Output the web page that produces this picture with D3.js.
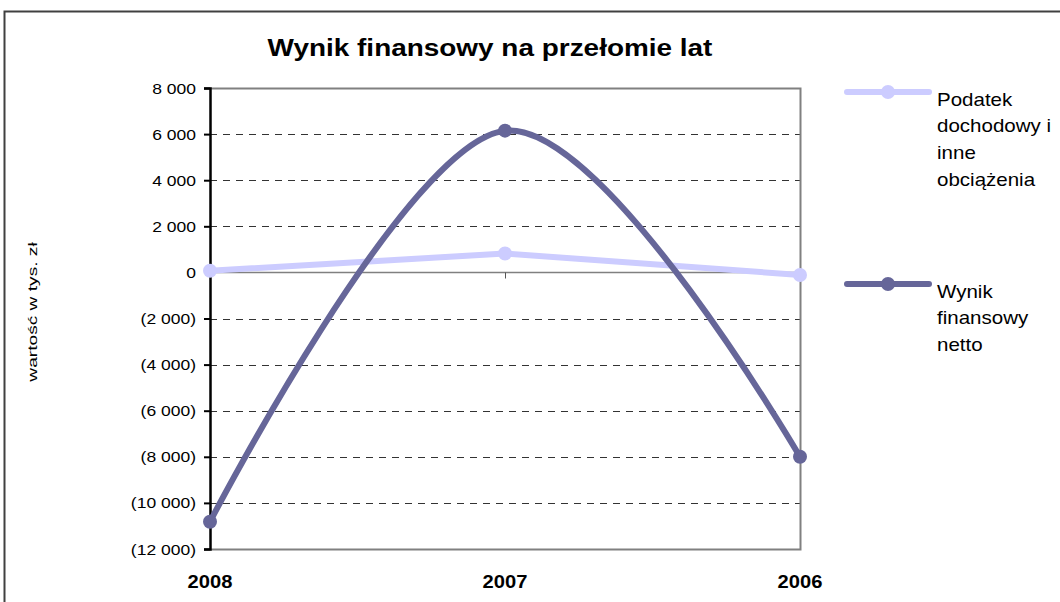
<!DOCTYPE html>
<html><head><meta charset="utf-8">
<script src="https://cdn.jsdelivr.net/npm/d3@7"></script>
<style>body{margin:0;background:#fff}svg{display:block;font-family:Arial,"Liberation Sans",sans-serif}</style>
</head><body><svg id="c" width="1060" height="602"></svg>
<script>
const years = ["2008", "2007", "2006"];
const podatek = [70, 820, -110];
const wynik = [-10820, 6150, -8000];
const yTicks = [8000, 6000, 4000, 2000, 0, -2000, -4000, -6000, -8000, -10000, -12000];
const seriesNames = [["Podatek", "dochodowy i", "inne", "obciążenia"], ["Wynik", "finansowy", "netto"]];
const colors = ["#CCCCFF", "#666699"];

const svg = d3.select("#c");
const L = 210, R = 800, T = 88, B = 549;
const SX = 1.14;
const x = d3.scalePoint().domain(years).range([L, R]);
const y = d3.scaleLinear().domain([-12000, 8000]).range([B, T]);

function label(g, tx, ty, txt, size, anchor, bold, sx) {
  return g.append("text").attr("transform", `translate(${tx},${ty}) scale(${sx || SX},1)`)
    .attr("text-anchor", anchor || "start").attr("font-size", size)
    .attr("font-weight", bold ? "bold" : "normal").attr("fill", "#000").text(txt);
}

// outer border
svg.append("path").attr("d", "M4.5,602 L4.5,11.5 L1060,11.5").attr("fill", "none").attr("stroke", "#404040").attr("stroke-width", 2);

// title
label(svg, 490, 56, "Wynik finansowy na przełomie lat", 24.5, "middle", true, 1.14);

// grid
const fmt = v => { const s = d3.format(",")(Math.abs(v)).replace(/,/g, "\u00a0"); return v < 0 ? "(" + s + ")" : s; };
svg.append("g").selectAll("line").data(yTicks.filter(v => v !== 0 && v !== 8000 && v !== -12000)).join("line")
  .attr("x1", L).attr("x2", R).attr("y1", d => Math.round(y(d)) + 0.5).attr("y2", d => Math.round(y(d)) + 0.5)
  .attr("stroke", "#333").attr("stroke-width", 1).attr("stroke-dasharray", "7,6");

// plot border (top, right, bottom)
svg.append("path").attr("d", `M${L},${T+0.5} L${R+0.5},${T+0.5} L${R+0.5},${B+0.5} L${L},${B+0.5}`)
  .attr("fill", "none").attr("stroke", "#808080").attr("stroke-width", 2);

// zero axis
const yz = Math.round(y(0)) + 0.5;
svg.append("line").attr("x1", L).attr("x2", R).attr("y1", yz).attr("y2", yz).attr("stroke", "#808080").attr("stroke-width", 1.5);
svg.append("g").selectAll("line").data(years).join("line")
  .attr("x1", d => x(d) + 0.5).attr("x2", d => x(d) + 0.5).attr("y1", yz).attr("y2", yz + 6).attr("stroke", "#555");

// y axis
const yAxis = d3.axisLeft(y).tickValues(yTicks).tickFormat("").tickSize(6);
const ga = svg.append("g").attr("transform", `translate(${L},0)`).call(yAxis);
ga.select(".domain").attr("stroke", "#000").attr("stroke-width", 2.5);
ga.selectAll(".tick line").attr("stroke", "#000").attr("stroke-width", 2);
const gl = svg.append("g");
yTicks.forEach(v => label(gl, 196, y(v) + 5.5, fmt(v), 15.5, "end", false, 1.13));

// x labels
const gx = svg.append("g");
years.forEach(d => label(gx, x(d), 588, d, 18, "middle", true, 1.12));

// y title
svg.append("text").attr("transform", "translate(37,312) rotate(-90) scale(1.42,1)").attr("text-anchor", "middle")
  .attr("font-size", 13.5).text("wartość w tys. zł");

// lines
const curves = [d3.curveLinear, d3.curveCardinal.tension(0)];
[podatek, wynik].forEach((s, k) => {
  const line = d3.line().x((d, i) => x(years[i])).y(d => y(d)).curve(curves[k]);
  svg.append("path").attr("d", line(s)).attr("fill", "none").attr("stroke", colors[k]).attr("stroke-width", 6).attr("stroke-linejoin", "round");
  svg.append("g").selectAll("circle").data(s).join("circle")
    .attr("cx", (d, i) => x(years[i])).attr("cy", d => y(d)).attr("r", 7).attr("fill", colors[k]);
});

// legend
const legY = [92, 284];
seriesNames.forEach((names, k) => {
  const g = svg.append("g");
  g.append("line").attr("x1", 847).attr("x2", 929).attr("y1", legY[k]).attr("y2", legY[k])
    .attr("stroke", colors[k]).attr("stroke-width", 6).attr("stroke-linecap", "round");
  g.append("circle").attr("cx", 888).attr("cy", legY[k]).attr("r", 7).attr("fill", colors[k]);
  names.forEach((t, j) => label(g, 937, legY[k] + 13.5 + j * 26.7, t, 18, "start", false, 1.14));
});
</script></body></html>
